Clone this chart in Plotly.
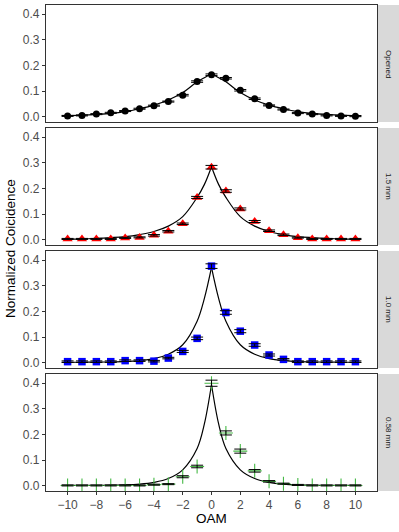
import plotly.graph_objects as go
from plotly.subplots import make_subplots

# OAM values measured
oam = list(range(-10, 11))

# Normalized coincidence per aperture
opened = [0.003, 0.005, 0.010, 0.015, 0.022, 0.031, 0.043, 0.059, 0.084, 0.137, 0.164,
          0.150, 0.103, 0.070, 0.044, 0.028, 0.014, 0.010, 0.005, 0.003, 0.002]
opened_err = [0.002, 0.002, 0.002, 0.002, 0.002, 0.002, 0.002, 0.002, 0.003, 0.003, 0.003,
              0.003, 0.003, 0.003, 0.002, 0.002, 0.002, 0.002, 0.002, 0.002, 0.002]

mm15 = [0.003, 0.003, 0.003, 0.003, 0.007, 0.009, 0.017, 0.033, 0.062, 0.165, 0.283,
        0.190, 0.120, 0.071, 0.035, 0.019, 0.008, 0.003, 0.003, 0.003, 0.003]
mm15_err = [0.002, 0.002, 0.002, 0.002, 0.002, 0.002, 0.003, 0.003, 0.003, 0.004, 0.007,
            0.005, 0.004, 0.004, 0.003, 0.003, 0.002, 0.002, 0.002, 0.002, 0.002]

mm10 = [0.004, 0.004, 0.004, 0.004, 0.008, 0.008, 0.006, 0.018, 0.044, 0.095, 0.377,
        0.196, 0.123, 0.069, 0.030, 0.013, 0.004, 0.004, 0.004, 0.004, 0.004]
mm10_err = [0.003, 0.003, 0.003, 0.003, 0.003, 0.003, 0.003, 0.003, 0.004, 0.005, 0.009,
            0.007, 0.006, 0.005, 0.004, 0.003, 0.003, 0.003, 0.003, 0.003, 0.003]

mm058 = [0.001, 0.001, 0.001, 0.001, 0.001, 0.001, 0.004, 0.006, 0.035, 0.075, 0.400,
         0.206, 0.135, 0.058, 0.017, 0.008, 0.003, 0.001, 0.001, 0.001, 0.001]
mm058_err = [0.002, 0.002, 0.002, 0.002, 0.002, 0.002, 0.002, 0.002, 0.004, 0.005, 0.012,
             0.008, 0.008, 0.005, 0.003, 0.002, 0.002, 0.002, 0.002, 0.002, 0.002]

# fitted curves (right half; left half mirrors it)
fit_x = [0, 0.5, 1, 2, 3, 4, 5, 6, 7, 8, 9, 10, 10.4]
fit_opened = [0.168, 0.152, 0.136, 0.094, 0.065, 0.045, 0.031, 0.020, 0.013, 0.009, 0.006, 0.004, 0.004]
fit_15 = [0.285, 0.215, 0.165, 0.090, 0.053, 0.032, 0.020, 0.012, 0.008, 0.005, 0.003, 0.002, 0.002]
fit_10 = [0.372, 0.250, 0.162, 0.070, 0.033, 0.016, 0.008, 0.004, 0.003, 0.002, 0.002, 0.001, 0.001]
fit_058 = [0.395, 0.240, 0.145, 0.062, 0.028, 0.013, 0.006, 0.003, 0.002, 0.001, 0.001, 0.001, 0.001]

labels = ["Opened", "1.5 mm", "1.0 mm", "0.58 mm"]

green = "rgb(70,185,70)"
panels = [
    (opened, opened_err, fit_opened, dict(symbol="circle", size=7, color="black")),
    (mm15, mm15_err, fit_15, dict(symbol="triangle-up", size=9, color="red")),
    (mm10, mm10_err, fit_10, dict(symbol="square", size=7.5, color="blue")),
    (mm058, mm058_err, fit_058, dict(symbol="cross-thin", size=10, color=green,
                                     line=dict(width=1.1, color=green))),
]

fig = make_subplots(rows=4, cols=1, shared_xaxes=True)

for i, (vals, errs, fit, mk) in enumerate(panels):
    row = i + 1
    # fit curve, two halves so the cusp at 0 stays sharp
    fig.add_trace(go.Scatter(x=[-v for v in fit_x], y=fit, mode="lines", line_shape="spline",
                             line=dict(color="black", width=1.2), hoverinfo="skip"), row=row, col=1)
    fig.add_trace(go.Scatter(x=fit_x, y=fit, mode="lines", line_shape="spline",
                             line=dict(color="black", width=1.2), hoverinfo="skip"), row=row, col=1)
    fig.add_trace(go.Scatter(x=oam, y=vals, mode="markers", marker=mk), row=row, col=1)
    # error bars on top of the markers
    fig.add_trace(go.Scatter(x=oam, y=vals, mode="markers",
                             marker=dict(size=2, color="rgba(0,0,0,0)"),
                             error_y=dict(type="data", array=errs, color="black",
                                          thickness=1, width=6)), row=row, col=1)

axis_col = "#333333"
domains = [[0.7593, 1.0], [0.5062, 0.7469], [0.2531, 0.4938], [0.0, 0.2407]]
for i in range(4):
    fig.update_yaxes(range=[-0.0207, 0.436], tickvals=[0, 0.1, 0.2, 0.3, 0.4], tickformat=".1f",
                     domain=domains[i], showline=True, mirror=True, linecolor=axis_col, linewidth=1.1,
                     ticks="outside", ticklen=3, tickcolor=axis_col, showgrid=False, zeroline=False,
                     tickfont=dict(size=12, color="#4D4D4D"), row=i + 1, col=1)
    fig.update_xaxes(range=[-11.5, 11.5], domain=[0, 0.9377], showline=True, mirror=True,
                     linecolor=axis_col, linewidth=1.1, showgrid=False, zeroline=False,
                     tickvals=list(range(-10, 11, 2)),
                     ticks="outside" if i == 3 else "", ticklen=3, tickcolor=axis_col,
                     showticklabels=(i == 3), tickfont=dict(size=12, color="#4D4D4D"),
                     row=i + 1, col=1)

# facet strips
for i, lab in enumerate(labels):
    y0, y1 = domains[i]
    fig.add_shape(type="rect", xref="paper", yref="paper", x0=0.9405, x1=1.0, y0=y0, y1=y1,
                  fillcolor="#D9D9D9", line=dict(width=0), layer="below")
    fig.add_annotation(text=lab, xref="paper", yref="paper", x=0.9703, y=(y0 + y1) / 2,
                       xanchor="center", yanchor="middle",
                       textangle=90, showarrow=False, font=dict(size=8, color="#1A1A1A"))

fig.add_annotation(text="Normalized Coicidence", xref="paper", yref="paper", x=-0.102, y=0.5,
                   xanchor="center", yanchor="middle",
                   textangle=-90, showarrow=False, font=dict(size=13.5, color="black"))
fig.add_annotation(text="OAM", xref="paper", yref="paper", x=0.469, y=-0.0556,
                   xanchor="center", yanchor="middle", showarrow=False,
                   font=dict(size=13.5, color="black"))

fig.update_layout(width=399, height=532, margin=dict(l=46, r=0, t=5, b=41),
                  plot_bgcolor="white", paper_bgcolor="white", showlegend=False,
                  font=dict(family="Liberation Sans, Arial, sans-serif"))

fig.write_html("out.html", config={"displayModeBar": False},
               post_script="document.body.style.margin='0px';document.body.style.overflow='hidden';")
